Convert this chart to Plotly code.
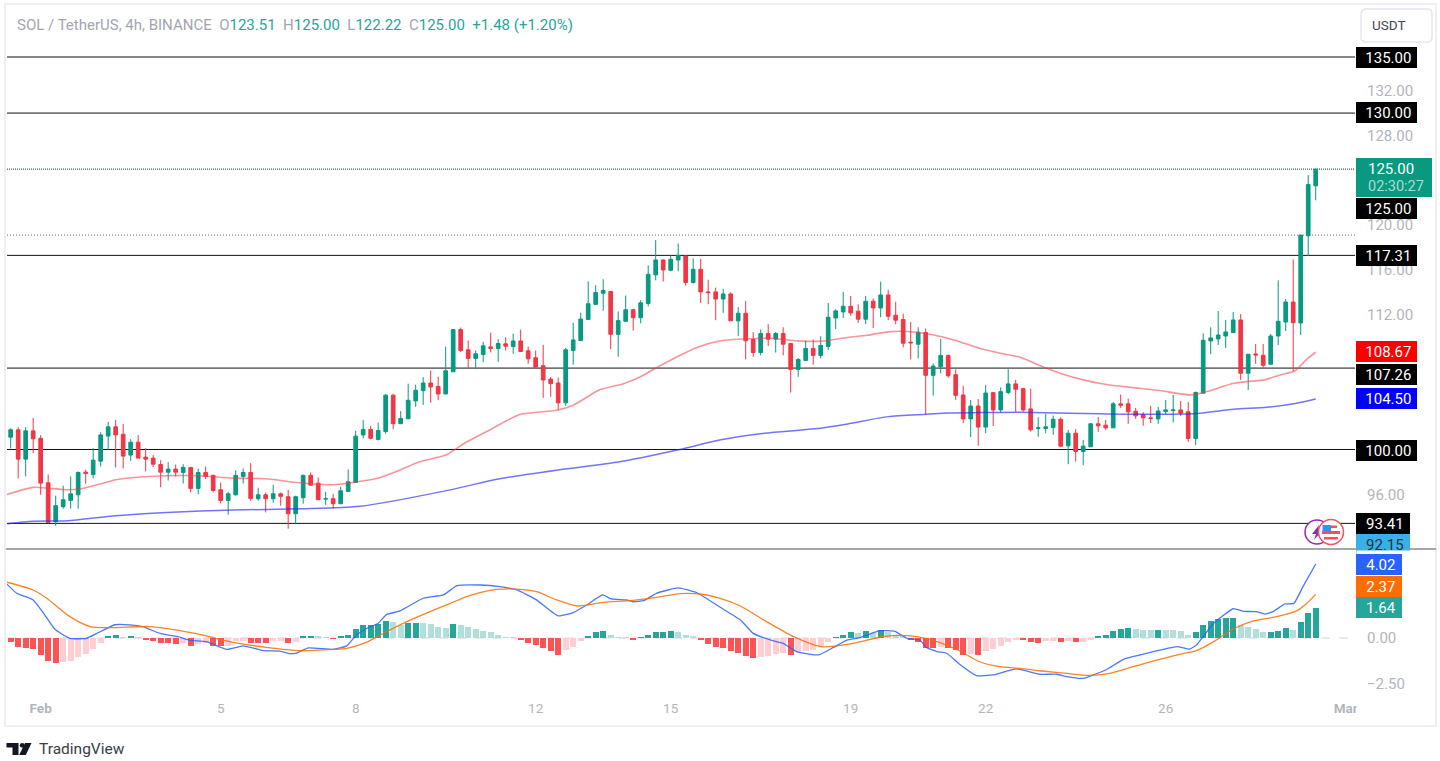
import plotly.graph_objects as go

candle_idx = list(range(175))
opens = [101.1,101.75,99.14,101.66,101.0,97.03,93.56,94.9,95.46,95.96,
 97.98,97.77,98.96,101.2,102.02,101.36,99.5,100.65,99.32,99.23,
 98.66,97.98,98.25,97.95,98.4,96.53,97.95,97.69,96.41,95.46,
 95.96,97.6,97.95,95.61,95.96,95.61,96.05,95.79,94.27,95.7,
 97.69,97.0,95.58,95.61,95.16,96.26,97.06,101.3,101.79,100.9,
 101.6,104.84,102.3,102.74,104.33,105.25,105.93,105.63,104.95,106.93,
 110.69,108.89,108.12,108.47,109.15,109.0,109.42,109.18,109.68,108.8,
 108.18,107.47,106.28,105.93,104.16,108.83,109.71,111.6,112.94,113.94,
 114.09,110.27,111.43,112.46,111.75,113.02,115.57,116.9,115.98,116.9,
 117.25,114.89,116.07,114.05,114.05,113.42,113.87,111.47,112.15,109.81,
 108.65,110.34,109.84,110.34,109.45,107.14,107.94,109.01,108.39,109.19,
 111.73,112.27,112.77,112.33,111.62,113.22,112.62,113.78,111.97,111.59,
 109.57,109.39,110.43,106.61,107.38,108.39,106.67,104.86,102.73,103.88,
 102.0,105.07,103.53,105.08,105.85,105.43,103.62,101.87,101.87,101.96,
 102.7,100.33,101.45,99.82,100.24,102.29,102.17,101.93,104.07,104.07,
 103.41,103.09,102.82,102.73,103.38,103.47,103.53,103.36,100.98,105.02,
 109.68,109.86,110.12,110.42,111.55,106.8,108.52,108.4,107.6,110.12,
 111.37,113.15,111.28,119.06,123.51]
highs = [101.9,101.99,101.99,102.82,101.28,97.77,95.88,96.77,97.6,98.04,
 98.19,100.12,101.54,102.46,102.64,102.28,100.92,101.28,100.12,99.5,
 99.05,98.87,98.66,98.69,98.4,98.31,98.49,97.77,97.06,96.23,
 98.13,98.31,98.78,96.59,96.17,96.85,96.17,96.41,95.88,97.77,
 97.95,97.5,96.23,96.05,96.68,98.22,101.66,102.62,102.1,102.4,
 104.95,104.98,103.42,105.87,105.78,106.46,107.05,106.49,109.18,110.69,
 110.87,109.71,108.83,109.6,110.42,109.83,110.01,110.33,110.69,109.18,
 108.83,109.33,106.46,106.4,109.06,111.31,112.2,115.0,114.65,115.18,
 114.15,112.31,113.73,112.55,113.32,116.42,118.67,116.96,117.31,118.37,
 117.31,117.04,117.0,115.14,114.43,114.34,114.02,112.71,113.25,110.46,
 110.7,111.17,110.49,110.9,109.51,108.15,109.72,109.81,110.1,113.07,
 112.5,114.05,113.69,112.95,113.69,113.45,114.96,114.25,113.16,112.12,
 111.38,110.9,110.79,107.67,109.84,108.45,107.14,105.69,104.42,104.5,
 105.75,105.13,105.54,107.16,106.2,105.49,105.43,102.88,103.18,103.03,
 102.85,101.75,101.84,100.86,102.35,102.91,102.64,104.25,104.9,104.54,
 103.71,103.33,103.89,103.8,104.42,104.87,104.33,104.25,105.17,110.36,
 110.9,112.35,111.55,112.26,112.08,108.49,109.41,109.41,110.3,115.08,
 113.42,116.95,119.12,124.47,125.0]
lows = [100.1,97.42,97.6,99.67,95.96,93.44,93.2,94.72,94.72,94.72,
 96.94,97.42,98.49,99.97,98.4,98.31,98.99,99.23,98.04,98.43,
 96.62,97.24,97.6,96.97,96.17,96.0,97.36,96.17,95.19,94.18,
 95.88,96.97,95.43,95.43,94.39,95.25,94.99,92.94,93.41,95.16,
 96.77,95.52,95.07,94.75,95.16,96.26,97.06,101.0,100.9,100.8,
 101.4,101.8,102.3,102.74,103.8,103.98,104.16,104.39,104.95,106.93,
 108.68,107.23,107.17,107.79,108.65,107.82,108.83,108.53,108.74,107.64,
 107.23,104.6,104.69,103.5,103.89,107.56,109.71,111.6,112.94,112.37,
 108.94,108.27,111.43,110.6,111.25,112.76,115.09,114.97,115.89,115.89,
 114.6,114.8,113.07,112.95,111.53,112.18,111.47,110.13,108.03,108.27,
 108.39,109.22,108.65,108.39,105.07,106.49,107.94,107.56,108.12,108.86,
 110.73,111.73,111.91,111.29,111.17,110.82,111.79,111.53,111.17,109.1,
 108.03,108.12,103.14,104.8,106.79,106.4,104.42,102.37,101.1,100.33,
 101.45,102.1,103.29,104.93,103.36,103.38,101.6,101.13,101.45,101.31,
 100.21,98.69,98.93,98.6,100.24,101.57,101.75,101.93,103.71,102.29,
 102.73,102.11,102.35,102.29,103.09,102.4,103.0,100.68,100.39,105.02,
 108.52,109.32,109.06,110.42,106.2,105.31,107.63,107.27,107.6,109.32,
 110.57,106.98,110.21,117.25,122.22]
closes = [101.75,99.14,101.66,100.95,97.0,93.5,94.99,95.52,96.05,97.95,
 97.86,99.05,101.3,102.02,101.3,99.41,100.65,99.23,99.14,98.69,
 97.98,98.25,97.98,98.4,96.53,97.95,97.6,96.35,95.46,96.05,
 97.69,97.95,95.64,95.96,95.61,96.05,95.82,94.27,95.79,97.69,
 96.82,95.52,95.61,95.16,96.32,97.12,101.19,101.79,101.0,101.7,
 104.84,102.3,102.77,104.39,105.28,105.93,105.57,104.95,107.02,110.69,
 108.83,108.12,108.53,109.24,109.0,109.45,109.21,109.68,108.74,108.09,
 107.35,106.2,105.87,104.16,108.89,109.77,111.63,113.0,114.0,114.18,
 110.27,111.49,112.46,111.75,113.08,115.62,116.9,116.01,116.96,117.31,
 114.89,116.07,114.05,113.99,113.42,113.87,111.47,112.15,109.69,108.65,
 110.34,109.84,110.34,109.39,107.14,108.03,109.01,108.39,109.27,111.79,
 112.36,112.77,112.18,111.62,113.22,112.62,113.78,111.88,111.53,109.48,
 109.51,110.46,106.61,107.44,108.39,106.58,104.83,102.73,103.88,102.0,
 105.04,103.53,105.16,105.85,105.37,103.53,101.75,101.93,102.02,102.7,
 100.3,101.45,99.82,100.3,102.29,102.11,101.93,104.07,103.95,103.36,
 103.0,102.82,102.76,103.44,103.53,103.53,103.24,100.98,105.08,109.74,
 109.95,110.21,110.48,111.55,106.8,108.49,108.43,107.51,110.12,111.43,
 113.15,111.31,119.12,123.63,125.0]

ema50_idx = [-0.5,3,5.2,7.5,9.2,11.5,14,17.7,20.8,25,29.7,34,38.5,43,45.7,49,52,54.5,58,60.6,64,67.9,72.8,75,78.6,81.7,83.9,86.1,89.2,91.5,94.7,98.2,101.8,104.9,108,111.6,114.2,117,119.6,123.2,125.9,129.4,132.1,134.6,137.2,139.9,143,146.1,149.7,153.2,157.3,159.5,163.1,167.1,169.3,171.3,172.7,174]
ema50_val = [95.99,96.62,96.53,96.41,96.47,96.85,97.3,97.57,97.66,97.66,97.45,97.39,97.03,96.85,97.06,97.45,98.2,98.9,99.5,100.6,101.79,103.12,103.5,103.95,105.34,105.87,106.46,107.29,108.38,109.1,109.69,109.87,109.9,109.69,109.66,109.99,110.19,110.49,110.52,110.19,109.75,108.98,108.56,108.22,107.48,106.8,106.21,105.79,105.52,105.26,104.87,105.17,105.91,106.21,106.65,107.04,107.99,108.67]
ema200_idx = [-0.5,3,7.5,14,20.8,29.7,38.5,46.6,58.6,65.2,73.2,81.2,89.2,94.7,100.5,107.2,111.6,117,122.2,125,129.4,134.8,136.3,145.2,157.6,163.1,167.5,171.5,174]
ema200_val = [93.38,93.59,93.65,94.1,94.39,94.6,94.72,94.93,96.4,97.4,98.2,98.9,100.0,100.86,101.45,101.84,102.28,102.93,103.14,103.26,103.29,103.32,103.3,103.18,103.18,103.59,103.77,104.13,104.5]

macd_idx = [-0.5,0.8,3,4.4,5.9,7.9,10.1,11.5,13.9,15.9,17.7,19.9,22.6,23.9,26.1,28.8,31,33.7,35.9,37.2,38.1,39.7,43,44.8,46.1,47.5,49,50.1,51.9,55,57.7,59.5,62.6,65.2,67.5,70.1,73,75,76.8,78.9,80.1,82.1,83,84.4,86.1,89,91.5,94.6,97.3,99,101.7,103,104.8,107.7,109.7,111.5,113.2,115.9,117.9,119.5,121.2,122.1,123.5,124.8,126.6,128.8,131,134.1,137.2,139.5,140.8,143,146,148.4,151.5,155.5,157.2,158.1,160.4,163,164.4,166.1,167.2,168.3,169.9,171.1,172.3,174]
macd_val = [2.93,2.43,2.07,1.34,0.47,-0.02,-0.02,0.25,0.72,0.71,0.6,0.25,0.04,-0.13,-0.2,-0.62,-0.43,-0.69,-0.71,-0.85,-0.82,-0.54,-0.62,-0.43,0.16,0.53,0.8,1.27,1.47,2.16,2.34,2.84,2.88,2.79,2.61,2.07,1.2,1.38,1.79,2.34,2.12,2.07,1.97,2.03,2.43,2.72,2.46,1.67,0.98,0.25,-0.16,-0.29,-0.74,-0.92,-0.51,-0.11,0.02,0.4,0.36,-0.02,-0.11,-0.51,-0.74,-0.83,-1.45,-2.05,-2.01,-1.68,-1.97,-1.97,-2.1,-2.19,-1.74,-1.16,-0.83,-0.47,-0.6,-0.38,0.8,1.59,1.45,1.43,1.3,1.43,1.85,1.88,2.79,4.02]
signal_idx = [-0.5,3,4.8,7.9,10.6,13.2,18.6,22.6,26.1,29.7,34.1,38.6,43,44.8,47.5,50.1,52.8,56.4,58.6,60.8,62.6,64.8,67.5,70.1,72.8,75.5,79,82.6,86.1,89.2,91.9,94.6,97.3,100.4,104.4,108,110.1,112.8,115.9,118.1,120.8,123.5,126.6,129.2,131.9,134.6,137.2,140.8,143.5,146.6,149.7,153.2,156.3,158.1,160.4,163,165.6,168.8,171.5,172.8,174]
signal_val = [3.03,2.61,2.16,1.16,0.62,0.56,0.62,0.4,0.11,-0.24,-0.51,-0.69,-0.62,-0.56,-0.22,0.34,0.89,1.52,1.88,2.25,2.46,2.64,2.66,2.52,2.07,1.74,1.94,2.03,2.21,2.41,2.39,2.16,1.74,0.98,0.07,-0.47,-0.43,-0.25,0.04,0.14,0.07,-0.2,-0.72,-1.29,-1.56,-1.65,-1.78,-1.92,-2.03,-1.92,-1.56,-1.16,-0.85,-0.69,-0.2,0.49,0.92,1.16,1.49,1.88,2.37]
hist_val = [-0.24,-0.5,-0.53,-0.58,-0.9,-1.23,-1.34,-1.33,-1.23,-1.01,
 -0.85,-0.58,-0.29,0.06,0.15,0.04,0.1,0.02,-0.1,-0.18,
 -0.27,-0.29,-0.33,-0.25,-0.42,-0.3,-0.28,-0.42,-0.44,-0.43,
 -0.15,-0.14,-0.25,-0.26,-0.28,-0.15,-0.14,-0.29,-0.2,0.07,
 0.12,0.07,0.05,-0.05,0.06,0.15,0.47,0.68,0.7,0.76,
 0.9,0.87,0.69,0.8,0.81,0.8,0.74,0.58,0.57,0.74,
 0.69,0.58,0.47,0.36,0.31,0.18,0.05,0.04,-0.07,-0.25,
 -0.4,-0.56,-0.69,-0.9,-0.67,-0.47,-0.16,0.07,0.31,0.36,
 0.15,0.05,0.04,-0.07,0.03,0.15,0.31,0.32,0.36,0.35,
 0.15,0.1,-0.12,-0.3,-0.47,-0.53,-0.69,-0.8,-0.96,-1.07,
 -1.01,-0.96,-0.85,-0.84,-0.9,-0.74,-0.69,-0.63,-0.47,-0.24,
 0.05,0.18,0.31,0.25,0.36,0.25,0.42,0.31,0.15,0.07,
 -0.12,-0.2,-0.55,-0.56,-0.47,-0.55,-0.67,-0.9,-0.85,-0.92,
 -0.69,-0.6,-0.42,-0.2,-0.07,-0.13,-0.24,-0.29,-0.18,-0.16,
 -0.24,-0.16,-0.24,-0.2,-0.1,0.07,0.18,0.36,0.47,0.54,
 0.47,0.46,0.42,0.43,0.42,0.41,0.36,0.18,0.31,0.69,
 0.9,1.01,1.07,1.08,0.69,0.58,0.47,0.31,0.32,0.36,
 0.53,0.42,0.85,1.34,1.64]

level_solid = [135.00, 130.00, 117.31, 107.26, 100.00, 93.41]
last_price = 125.00
prev_close_line = 119.12
price_ticks = [132, 128, 120, 116, 112, 96]
macd_ticks = [0, -2.5]
x_tick_idx = [4, 28, 46, 70, 88, 112, 130, 154, 178]
x_tick_lbl = ["<b>Feb</b>", "5", "8", "12", "15", "19", "22", "26", "<b>Mar</b>"]

assert all(len(a) == 175 for a in (opens, highs, lows, closes, hist_val))
assert len(ema50_idx) == len(ema50_val) and len(ema200_idx) == len(ema200_val)
assert len(macd_idx) == len(macd_val) and len(signal_idx) == len(signal_val)

W, H = 1440, 761
FONT = "Roboto, sans-serif"
GREEN, RED = "#089981", "#f23645"
TICK = "#b2b5be"
px = lambda x: x / W
py = lambda y: 1 - y / H

hist_col = []
for i, v in enumerate(hist_val):
    prev = hist_val[i - 1] if i else 0
    if v >= 0:
        hist_col.append("#26a69a" if v > prev else "#b2dfdb")
    else:
        hist_col.append("#ff5252" if v < prev else "#ffcdd2")

fig = go.Figure()
fig.add_bar(x=candle_idx, y=hist_val, yaxis="y2", marker=dict(color=hist_col, line_width=0), width=0.82, showlegend=False)
fig.add_candlestick(x=candle_idx, open=opens, high=highs, low=lows, close=closes, yaxis="y", whiskerwidth=0,
    increasing=dict(line=dict(color=GREEN, width=1), fillcolor=GREEN),
    decreasing=dict(line=dict(color=RED, width=1), fillcolor=RED), showlegend=False)
fig.add_scatter(x=ema50_idx, y=ema50_val, yaxis="y", mode="lines", line=dict(color="rgba(245,60,70,0.55)", width=1.6, shape="spline", smoothing=0.7), showlegend=False)
fig.add_scatter(x=ema200_idx, y=ema200_val, yaxis="y", mode="lines", line=dict(color="rgba(40,40,255,0.65)", width=1.5, shape="spline", smoothing=0.7), showlegend=False)
fig.add_scatter(x=macd_idx, y=macd_val, yaxis="y2", mode="lines", line=dict(color="#2962ff", width=1.3, shape="spline", smoothing=0.4), opacity=0.85, showlegend=False)
fig.add_scatter(x=signal_idx, y=signal_val, yaxis="y2", mode="lines", line=dict(color="#ff6d00", width=1.3, shape="spline", smoothing=0.7), opacity=0.85, showlegend=False)

shapes = []
for lv in level_solid:
    shapes.append(dict(type="line", xref="x domain", yref="y", x0=0, x1=1, y0=lv, y1=lv, layer="below", line=dict(color="#111111", width=1)))
shapes.append(dict(type="line", xref="x domain", yref="y", x0=0, x1=1, y0=last_price, y1=last_price, layer="below", line=dict(color="#0b3b33", width=1, dash="1px,1px")))
shapes.append(dict(type="line", xref="x domain", yref="y", x0=0, x1=1, y0=prev_close_line, y1=prev_close_line, layer="below", line=dict(color="#666666", width=1, dash="1px,2px")))
shapes.append(dict(type="line", xref="x domain", yref="y2", x0=0, x1=1, y0=0, y1=0, layer="below", line=dict(color="#d1d4dc", width=1, dash="dash")))

def pshape(**k):
    d = dict(xref="paper", yref="paper", layer="above")
    d.update(k)
    shapes.append(d)

def rect(x0, y0, x1, y1, **k):
    pshape(type="rect", x0=px(x0), x1=px(x1), y0=py(y0), y1=py(y1), **k)

def path(points, close=True, **k):
    p = "M" + " L".join(f"{px(a):.5f},{py(b):.5f}" for a, b in points) + (" Z" if close else "")
    pshape(type="path", path=p, **k)

def circ(cx, cy, r, **k):
    pshape(type="circle", x0=px(cx - r), x1=px(cx + r), y0=py(cy - r), y1=py(cy + r), **k)

# outer frame and pane separator
rect(5, 4, 1436, 726, line=dict(color="#eeeef4", width=2))
pshape(type="line", x0=px(6), x1=px(1436), y0=py(549), y1=py(549), line=dict(color="#8a8a8a", width=1.5))

# USDT button (rounded)
x0, y0, x1, y1, r = 1361, 9, 1432, 42, 5
btn = (f"M{px(x0+r):.5f},{py(y0):.5f} L{px(x1-r):.5f},{py(y0):.5f} Q{px(x1):.5f},{py(y0):.5f} {px(x1):.5f},{py(y0+r):.5f} "
       f"L{px(x1):.5f},{py(y1-r):.5f} Q{px(x1):.5f},{py(y1):.5f} {px(x1-r):.5f},{py(y1):.5f} "
       f"L{px(x0+r):.5f},{py(y1):.5f} Q{px(x0):.5f},{py(y1):.5f} {px(x0):.5f},{py(y1-r):.5f} "
       f"L{px(x0):.5f},{py(y0+r):.5f} Q{px(x0):.5f},{py(y0):.5f} {px(x0+r):.5f},{py(y0):.5f} Z")
pshape(type="path", path=btn, line=dict(color="#e6e7ee", width=1.5), fillcolor="white")

# last price tag
rect(1356, 158, 1432, 197, fillcolor=GREEN, line_width=0)

# TradingView logo mark
LOGO = "#131722"
path([(6.5, 743), (18.5, 743), (18.5, 755), (12.5, 755), (12.5, 747.5), (6.5, 747.5)], fillcolor=LOGO, line_width=0)
circ(22.2, 745.3, 2.4, fillcolor=LOGO, line_width=0)
path([(25, 743), (31.5, 743), (25.8, 755), (19.2, 755)], fillcolor=LOGO, line_width=0)

# event icons
circ(1317, 532, 12, fillcolor="white", line=dict(color="#9c27b0", width=1.5))
path([(1319, 525), (1312, 534), (1316, 534), (1314, 540), (1322, 531), (1318, 531)], fillcolor="#9c27b0", line_width=0)
circ(1331, 532, 12.5, fillcolor="white", line=dict(color="#f2525f", width=1.5))
rect(1322, 531, 1340, 534, fillcolor="#f2525f", line_width=0)
rect(1324, 537, 1338, 539.5, fillcolor="#f2525f", line_width=0)
rect(1325, 525.5, 1337, 528, fillcolor="#f2525f", line_width=0)
rect(1322.5, 525, 1331, 532, fillcolor="#3b8fe6", line_width=0)

ann = []
def tag(text, y, bg, x=1356, w=61, h=21, color="white", size=15):
    ann.append(dict(xref="paper", yref="paper", x=px(x), y=py(y), xanchor="left", yanchor="middle", text="&nbsp;" + text, showarrow=False,
        bgcolor=bg, width=w, height=h, align="center", valign="middle", borderpad=0, borderwidth=0,
        font=dict(family=FONT, size=size, color=color)))

def label(text, x, y, color, size=14, anchor="left"):
    ann.append(dict(xref="paper", yref="paper", x=px(x), y=py(y), xanchor=anchor, yanchor="middle", text=text, showarrow=False,
        font=dict(family=FONT, size=size, color=color)))

tag("135.00", 57.5, "#000000")
tag("130.00", 112.5, "#000000")
label("125.00", 1366, 169, "white", 15)
label("02:30:27", 1366, 187, "#a8dccf", 14.5)
tag("125.00", 208, "#000000")
tag("117.31", 255.5, "#000000")
tag("108.67", 351.5, "#ff0000")
tag("107.26", 374.5, "#000000")
tag("104.50", 399, "#0000ff")
tag("100.00", 450, "#000000")
tag("92.15", 545, "#3bb0e6", w=54, color="#12384a", h=22)
tag("93.41", 523.5, "#000000", w=54)
# the pane clips the 92.15 tag, and the time axis clips the Mar label
ann.append(dict(xref="paper", yref="paper", x=px(1356), y=py(550), xanchor="left", yanchor="top", text=" ", showarrow=False, bgcolor="white", width=56, height=8, borderpad=0))
ann.append(dict(xref="paper", yref="paper", x=px(1356), y=py(700), xanchor="left", yanchor="top", text=" ", showarrow=False, bgcolor="white", width=8, height=18, borderpad=0))
tag("4.02", 564, "#2962ff", w=46, h=21)
tag("2.37", 586.5, "#ff6d00", w=46, h=21)
tag("1.64", 607.5, "#26a69a", w=46, h=21)
label("USDT", 1389, 25.5, "#434651", 13.5, anchor="center")
g = "#26a69a"; s = "#a3a6af"
sp = lambda c, t: f'<span style="color:{c}">{t}</span>'
label(sp(s, "SOL / TetherUS, 4h, BINANCE&nbsp;&nbsp;O") + sp(g, "123.51") + sp(s, "&nbsp;&nbsp;H") + sp(g, "125.00") + sp(s, "&nbsp;&nbsp;L") + sp(g, "122.22")
      + sp(s, "&nbsp;&nbsp;C") + sp(g, "125.00&nbsp;&nbsp;+1.48 (+1.20%)"), 15, 25, s, 15)
label("TradingView", 37, 749, "#3a3d47", 15.5)

fig.update_layout(
    width=W, height=H, margin=dict(l=0, r=0, t=0, b=0, autoexpand=False), paper_bgcolor="white", plot_bgcolor="white",
    showlegend=False, bargap=0, hovermode=False, shapes=shapes, annotations=ann,
    font=dict(family=FONT),
    xaxis=dict(domain=[px(7), px(1355)], range=[-0.49, 179.24], anchor="y2", rangeslider=dict(visible=False), showgrid=False, zeroline=False, automargin=False,
        showline=False, tickmode="array", tickvals=x_tick_idx, ticktext=x_tick_lbl, tickfont=dict(color=TICK, size=13.5, family=FONT), ticks=""),
    yaxis=dict(domain=[py(549), py(5)], range=[135 - (549 - 57) / 11.214, 135 + (57 - 5) / 11.214], side="right", anchor="x", showgrid=False, zeroline=False, automargin=False,
        showline=False, tickmode="array", tickvals=price_ticks, ticktext=[f"{v:.2f}" for v in price_ticks],
        tickfont=dict(color=TICK, size=15, family=FONT), ticks="", ticklabelstandoff=11),
    yaxis2=dict(domain=[py(698), py(550)], range=[(638 - 698) / 18.4, (638 - 550) / 18.4], side="right", anchor="x", showgrid=False, zeroline=False, automargin=False,
        showline=False, tickmode="array", tickvals=macd_ticks, ticktext=["0.00", "\u22122.50"],
        tickfont=dict(color=TICK, size=15, family=FONT), ticks="", ticklabelstandoff=11),
)

fig.write_html("out.html", config={"displayModeBar": False},
    post_script="document.body.style.margin='0';document.body.style.overflow='hidden';")
